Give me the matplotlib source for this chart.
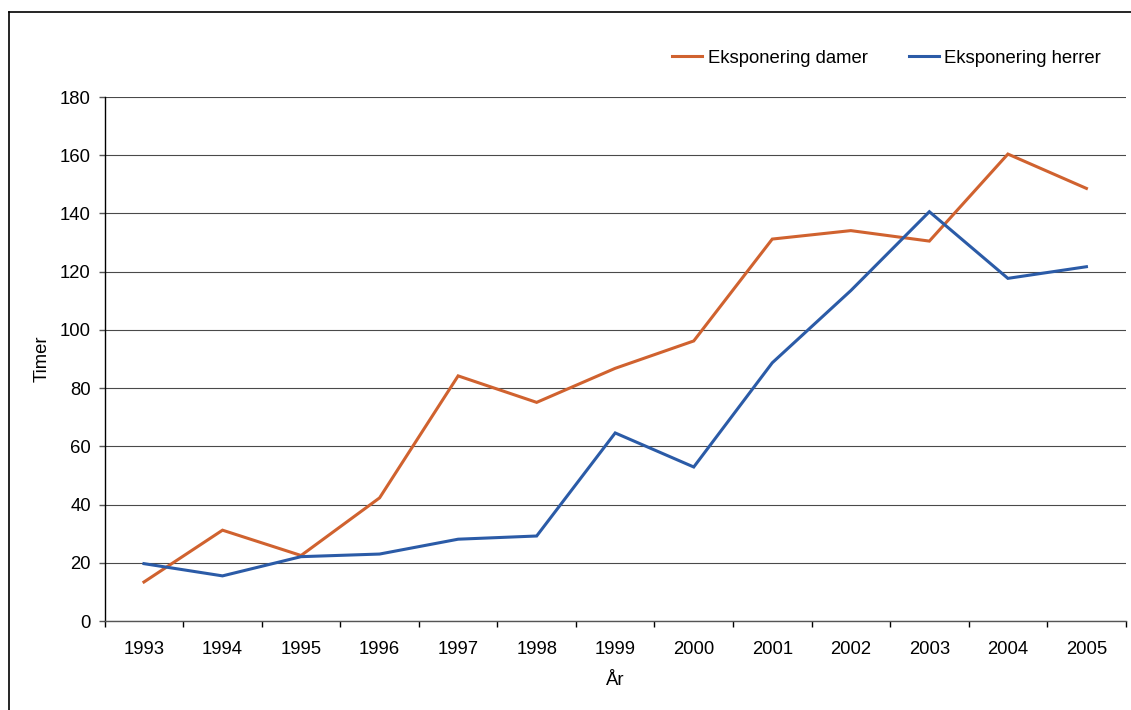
import matplotlib
matplotlib.use("Agg")
import matplotlib.pyplot as plt
from matplotlib.lines import Line2D

plt.rcParams['font.family'] = ['Liberation Sans', 'DejaVu Sans']

years = ['1993', '1994', '1995', '1996', '1997', '1998', '1999',
         '2000', '2001', '2002', '2003', '2004', '2005']
damer = [13.4, 31.2, 22.5, 42.3, 84.2, 75.1, 86.8, 96.2, 131.2, 134.1, 130.5, 160.4, 148.6]
herrer = [19.7, 15.5, 22.1, 23.0, 28.1, 29.2, 64.6, 52.9, 88.7, 113.5, 140.6, 117.7, 121.7]
yticks = [0, 20, 40, 60, 80, 100, 120, 140, 160, 180]

orange = '#D0622F'
blue = '#2B5BA7'
fs = 13.3

fig = plt.figure(figsize=(11.31, 7.10), dpi=100)
ax = fig.add_axes([104.7/1131, 89/710, 1021/1131, 524/710])

x = list(range(len(years)))
ax.plot(x, damer, color=orange, lw=2.2, label='Eksponering damer', solid_joinstyle='miter')
ax.plot(x, herrer, color=blue, lw=2.2, label='Eksponering herrer', solid_joinstyle='miter')

ax.set_xlim(-0.5, len(years) - 0.5)
ax.set_ylim(0, 180)
ax.set_yticks(yticks)
ax.set_yticklabels([str(v) for v in yticks])
ax.set_xticks(x)
ax.set_xticklabels(years)
ax.set_xticks([i - 0.5 for i in range(len(years) + 1)], minor=True)
ax.tick_params(axis='x', which='major', length=0, pad=14.5, labelsize=fs)
ax.tick_params(axis='x', which='minor', length=4, width=1, color='black', direction='out')
ax.tick_params(axis='y', length=4, width=1, color='#555555', pad=6, labelsize=fs)

ax.grid(axis='y', color='#4a4a4a', lw=0.8)
ax.set_axisbelow(True)
for s in ['top', 'right']:
    ax.spines[s].set_visible(False)
ax.spines['left'].set_color('black')
ax.spines['left'].set_linewidth(1)
ax.spines['bottom'].set_color('#555555')
ax.spines['bottom'].set_linewidth(1)

ax.set_ylabel('Timer', fontsize=fs)
ax.yaxis.set_label_coords(-0.053, 0.5)
ax.set_xlabel('År', fontsize=fs)
ax.xaxis.set_label_coords(0.5, -0.098)

fig.legend(loc='center right', bbox_to_anchor=(0.988, 0.918), ncol=2, frameon=False,
           fontsize=fs, handlelength=1.62, handletextpad=0.28, columnspacing=2.25)

# outer frame
fig.add_artist(Line2D([9/1131, 9/1131], [1 - 12/710, 0], transform=fig.transFigure, color='black', lw=1.2))
fig.add_artist(Line2D([9/1131, 1], [1 - 12/710, 1 - 12/710], transform=fig.transFigure, color='black', lw=1.2))

fig.savefig('out.png', dpi=100)
